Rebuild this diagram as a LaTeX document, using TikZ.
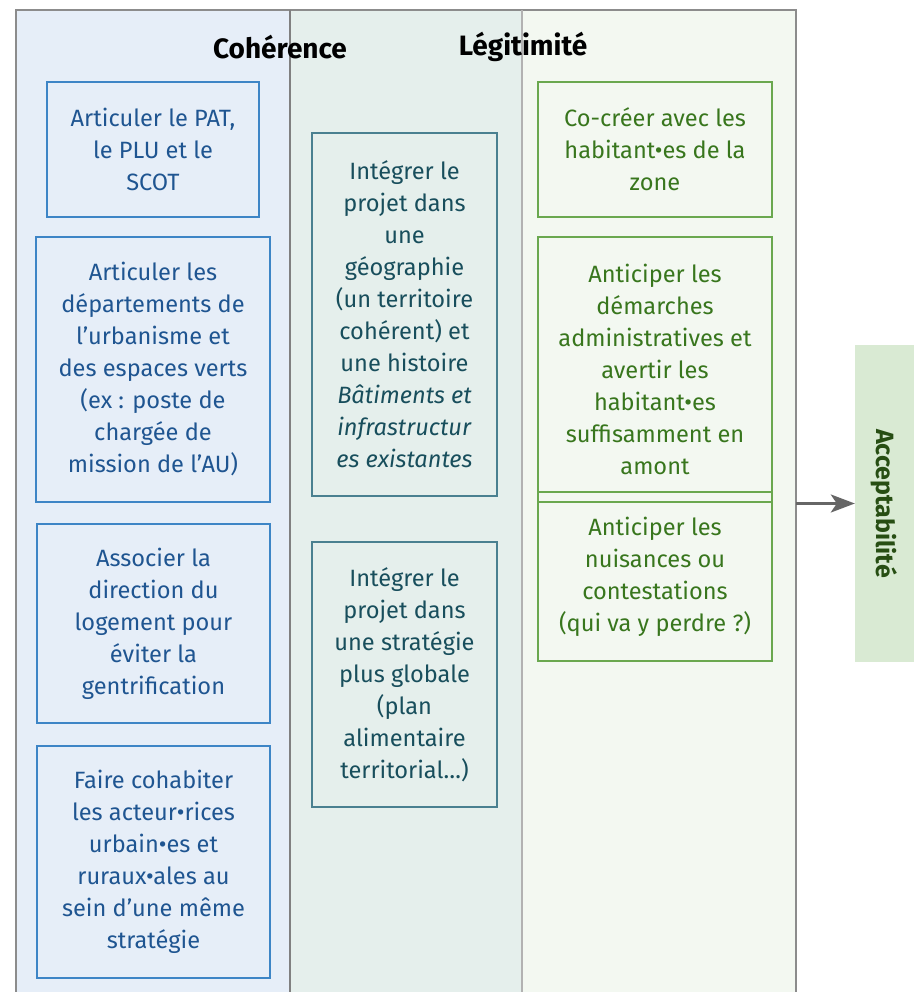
\documentclass[tikz,border=0pt]{standalone}
\usepackage{fontspec}
\setmainfont{Fira Sans}
\usetikzlibrary{arrows.meta,positioning}
\definecolor{fondbleu}{RGB}{230,238,248}
\definecolor{fondmixte}{RGB}{229,239,236}
\definecolor{fondvert}{RGB}{243,248,241}
\definecolor{traitbleu}{RGB}{61,133,198}
\definecolor{textebleu}{RGB}{31,85,145}
\definecolor{traitsarcelle}{RGB}{74,128,144}
\definecolor{textesarcelle}{RGB}{24,78,92}
\definecolor{traitvert}{RGB}{106,168,79}
\definecolor{textevert}{RGB}{56,118,29}
\definecolor{fondaccept}{RGB}{217,234,211}
\definecolor{texteaccept}{RGB}{39,78,19}
\tikzset{
  action/.style={rectangle,line width=1.6pt,align=center,inner sep=0pt,
    font=\fontsize{23.6}{32}\selectfont},
  bleu/.style={action,draw=traitbleu,text=textebleu,fill=fondbleu},
  sarcelle/.style={action,draw=traitsarcelle,text=textesarcelle,fill=fondmixte},
  vert/.style={action,draw=traitvert,text=textevert},
  titre/.style={font=\fontsize{28}{32}\selectfont\bfseries,inner sep=0pt},
  fleche/.style={-{Stealth[length=24pt,width=18pt,inset=6pt]},line width=3pt,black!60},
}
\begin{document}
\begin{tikzpicture}[x=1pt,y=-1pt]
  \useasboundingbox (0,0) rectangle (914,992);
  \clip (0,0) rectangle (914,992);
  % les deux dimensions et leur recouvrement
  \fill[fondbleu] (16,10) rectangle (290,1000);
  \fill[fondmixte] (290,10) rectangle (522,1000);
  \fill[fondvert] (522,10) rectangle (796,1000);
  \draw[black!45,line width=1.5pt] (16,1000) -- (16,10) -- (796,10) -- (796,1000);
  \draw[black!50,line width=1.5pt] (290,10) -- (290,1000);
  \draw[black!30,line width=1.5pt] (522,10) -- (522,1000);
  \node[titre] (coherence) at (280,47) {Cohérence};
  \node[titre] (legitimite) at (523,47) {Légitimité};
  % cohérence
  \node[bleu,minimum width=212pt,minimum height=135pt] (pat) at (153,149.5)
    {Articuler le PAT,\\le PLU et le\\SCOT};
  \node[bleu,minimum width=234pt,minimum height=265pt] (services) at (153,369.5)
    {Articuler les\\départements de\\l’urbanisme et\\des espaces verts\\(ex : poste de\\chargée de\\mission de l’AU)};
  \node[bleu,minimum width=233pt,minimum height=199pt] (logement) at (153.5,623.5)
    {Associer la\\direction du\\logement pour\\éviter la\\gentrification};
  \node[bleu,minimum width=233pt,minimum height=232pt] (acteurs) at (153.5,862)
    {Faire cohabiter\\les acteur•rices\\urbain•es et\\ruraux•ales au\\sein d’une même\\stratégie};
  % recouvrement
  \node[sarcelle,minimum width=185pt,minimum height=363pt] (geographie) at (404.5,314.5)
    {Intégrer le\\projet dans\\une\\géographie\\(un territoire\\cohérent) et\\une histoire\\\textit{Bâtiments et}\\\textit{infrastructur}\\\textit{es existantes}};
  \node[sarcelle,minimum width=185pt,minimum height=265pt] (strategie) at (404.5,674.5)
    {Intégrer le\\projet dans\\une stratégie\\plus globale\\(plan\\alimentaire\\territorial…)};
  % légitimité
  \node[vert,minimum width=234pt,minimum height=135pt] (cocreer) at (655,149.5)
    {Co-créer avec les\\habitant•es de la\\zone};
  \node[vert,minimum width=234pt,minimum height=265pt] (demarches) at (655,369.5)
    {Anticiper les\\démarches\\administratives et\\avertir les\\habitant•es\\suffisamment en\\amont};
  \node[vert,minimum width=234pt,minimum height=169pt] (nuisances) at (655,576.5)
    {Anticiper les\\nuisances ou\\contestations\\(qui va y perdre ?)};
  % sortie
  \node[fill=fondaccept,minimum width=59pt,minimum height=317pt,inner sep=0pt] (accept) at (884.5,503.5) {};
  \node[rotate=-90,text=texteaccept,font=\fontsize{25}{30}\selectfont\bfseries] (accepttxt) at (accept.center) {Acceptabilité};
  \coordinate (bord) at (796,503.5);
  \draw[fleche] (bord) -- (accept.west);
\end{tikzpicture}
\end{document}
